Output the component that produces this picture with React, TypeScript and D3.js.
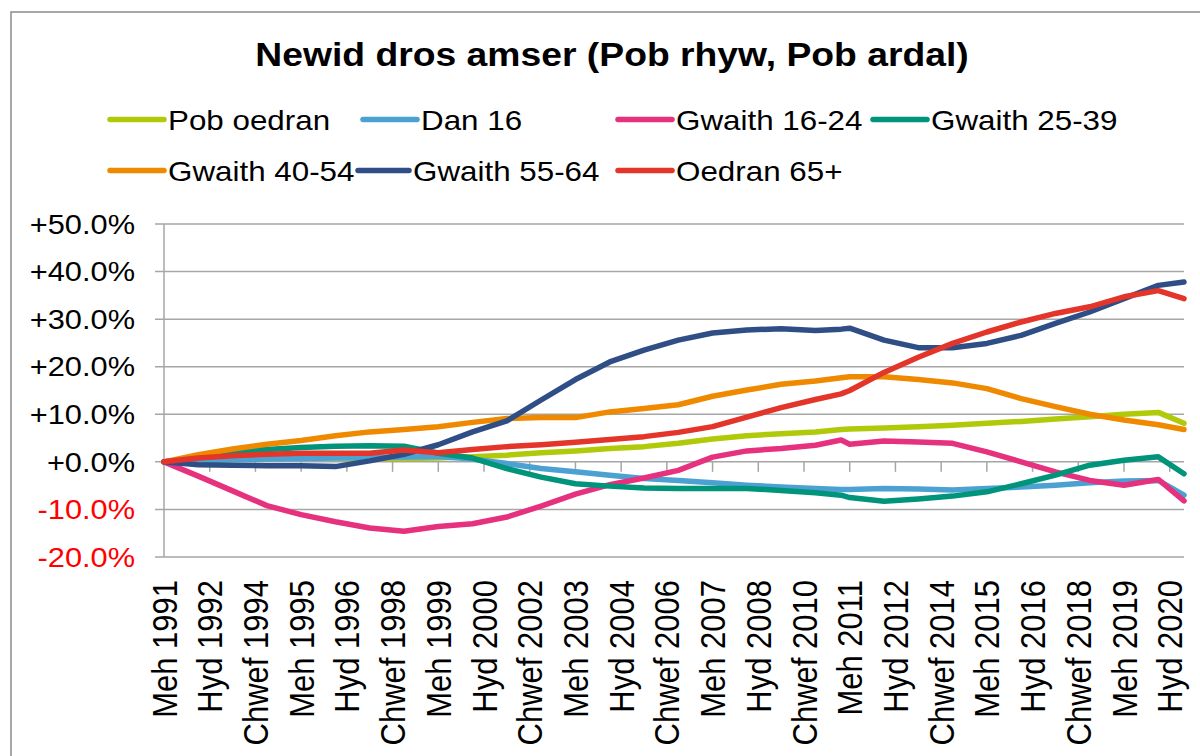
import React from "react";
import * as d3 from "d3";

// mid-year estimates, plus the two census points (Mar 2011, Mar 2021)
const periods = [
  1991, 1992, 1993, 1994, 1995, 1996, 1997, 1998, 1999, 2000,
  2001, 2002, 2003, 2004, 2005, 2006, 2007, 2008, 2009, 2010,
  2010.75, 2011, 2012, 2013, 2014, 2015, 2016, 2017, 2018, 2019, 2020, 2020.75,
];

const pobOedran = [
  0, 0.3, 0.5, 0.7, 0.8, 0.8, 0.7, 0.7, 0.8, 1.1,
  1.4, 1.9, 2.3, 2.8, 3.2, 3.9, 4.8, 5.5, 5.9, 6.3,
  6.8, 6.9, 7.1, 7.4, 7.7, 8.1, 8.5, 9.0, 9.5, 10.0, 10.4, 8.1,
];
const dan16 = [
  0, 0.3, 0.5, 0.6, 0.7, 0.8, 0.9, 1.0, 1.1, 0.6,
  -0.35, -1.4, -2.1, -2.8, -3.5, -3.9, -4.4, -4.9, -5.3, -5.6,
  -5.8, -5.8, -5.6, -5.7, -5.9, -5.6, -5.3, -4.9, -4.4, -4.0, -3.9, -7.0,
];
const gwaith1624 = [
  0, -3.0, -6.1, -9.2, -11.1, -12.6, -13.9, -14.6, -13.6, -13.0,
  -11.6, -9.3, -6.8, -4.8, -3.4, -1.8, 1.0, 2.3, 2.8, 3.5,
  4.6, 3.7, 4.4, 4.2, 3.9, 2.1, 0.0, -2.1, -3.9, -4.9, -3.7, -8.2,
];
const gwaith2539 = [
  0, 1.0, 2.0, 2.6, 3.0, 3.3, 3.4, 3.3, 1.8, 0.8,
  -1.4, -3.2, -4.6, -5.1, -5.5, -5.6, -5.6, -5.6, -6.0, -6.5,
  -7.0, -7.5, -8.3, -7.8, -7.2, -6.3, -4.6, -2.8, -0.7, 0.35, 1.05, -2.5,
];
const gwaith4054 = [
  0, 1.5, 2.7, 3.7, 4.5, 5.5, 6.3, 6.8, 7.4, 8.3,
  9.1, 9.3, 9.3, 10.5, 11.2, 12.0, 13.8, 15.1, 16.3, 17.0,
  17.7, 17.9, 17.9, 17.3, 16.6, 15.4, 13.3, 11.6, 10.0, 8.8, 7.8, 6.8,
];
const gwaith5564 = [
  0, -0.6, -0.7, -0.8, -0.8, -1.0, 0.2, 1.6, 3.6, 6.3,
  8.6, 13.0, 17.3, 21.0, 23.5, 25.6, 27.1, 27.7, 28.0, 27.6,
  27.9, 28.1, 25.6, 24.0, 24.0, 24.9, 26.6, 29.1, 31.5, 34.3, 37.1, 37.8,
];
const oedran65 = [
  0, 0.8, 1.3, 1.6, 1.8, 1.8, 1.8, 2.5, 1.9, 2.6,
  3.2, 3.6, 4.1, 4.7, 5.3, 6.2, 7.4, 9.4, 11.4, 13.1,
  14.3, 15.0, 18.8, 22.0, 24.9, 27.3, 29.4, 31.2, 32.6, 34.7, 36.0, 34.3,
];

const seriesNames = [
  "Pob oedran", "Dan 16", "Gwaith 16-24", "Gwaith 25-39",
  "Gwaith 40-54", "Gwaith 55-64", "Oedran 65+",
];
const seriesValues = [pobOedran, dan16, gwaith1624, gwaith2539, gwaith4054, gwaith5564, oedran65];
const seriesColors = ["#B0CA0A", "#4BA2D2", "#E6317F", "#00947A", "#EF8A00", "#2F4E86", "#E3352A"];

const xLabels = [
  "Meh 1991", "Hyd 1992", "Chwef 1994", "Meh 1995", "Hyd 1996", "Chwef 1998",
  "Meh 1999", "Hyd 2000", "Chwef 2002", "Meh 2003", "Hyd 2004", "Chwef 2006",
  "Meh 2007", "Hyd 2008", "Chwef 2010", "Meh 2011", "Hyd 2012", "Chwef 2014",
  "Meh 2015", "Hyd 2016", "Chwef 2018", "Meh 2019", "Hyd 2020",
];
const yTicks = [-20, -10, 0, 10, 20, 30, 40, 50];

const monthNum: Record<string, number> = { Chwef: 2, Meh: 6, Hyd: 10 };
// label -> fractional year, with June as the whole year
const labelPos = (lab: string) => {
  const [m, yr] = lab.split(" ");
  return +yr + (monthNum[m] - 6) / 12;
};

// legend boxes, Excel style two rows
const legendSpots = [
  [110, 119.5], [363, 119.5], [618, 119.5], [873, 119.5],
  [110, 170.5], [358, 170.5], [618, 170.5],
];

const FONT = "'Liberation Sans', Arial, sans-serif";
const SX = 1.12; // source picture is a little wide

export default function App() {
  const width = 1200;
  const height = 756;
  const plot = { left: 164, right: 1184, top: 224, bottom: 557 };

  const x = d3.scaleLinear().domain([1991, 2020.75]).range([plot.left, plot.right]);
  const y = d3.scaleLinear().domain([-20, 50]).range([plot.bottom, plot.top]);

  const line = d3
    .line<number>()
    .x((d, i) => x(periods[i]))
    .y((d) => y(d));

  const fmt = (v: number) => (v >= 0 ? "+" : "") + v.toFixed(1) + "%";

  return (
    <svg
      width={width}
      height={height}
      style={{ position: "absolute", left: 0, top: 0, background: "#fff" }}
      fontFamily={FONT}
    >
      <rect x={11} y={12} width={1300} height={900} fill="#fff" stroke="#8c8c8c" strokeWidth={1.5} />

      <g transform={`translate(612,66) scale(${SX + 0.01},1)`}>
        <text textAnchor="middle" fontSize={33} fontWeight="bold" fill="#000">
          Newid dros amser (Pob rhyw, Pob ardal)
        </text>
      </g>

      {seriesNames.map((name, i) => {
        const lx = legendSpots[i][0];
        const ly = legendSpots[i][1];
        const len = i === 5 ? 51 : 54;
        return (
          <g key={name}>
            <line
              x1={lx}
              x2={lx + len}
              y1={ly}
              y2={ly}
              stroke={seriesColors[i]}
              strokeWidth={5.5}
              strokeLinecap="round"
            />
            <g transform={`translate(${lx + len + 4},${ly + 10}) scale(${SX},1)`}>
              <text fontSize={28} fill="#000">{name}</text>
            </g>
          </g>
        );
      })}

      {/* grid + y axis */}
      {yTicks.map((t) => (
        <g key={t}>
          <line x1={plot.left - 9} x2={plot.right} y1={y(t)} y2={y(t)} stroke="#a6a6a6" strokeWidth={1.5} />
          <g transform={`translate(135,${y(t)}) scale(${SX + 0.02},1)`}>
            <text textAnchor="end" dy="0.36em" fontSize={27} fill={t < 0 ? "#ff0000" : "#000"}>
              {fmt(t)}
            </text>
          </g>
        </g>
      ))}
      <line x1={plot.left} x2={plot.left} y1={plot.top} y2={plot.bottom} stroke="#a6a6a6" strokeWidth={1.5} />

      {/* category ticks on the zero line, labels at the bottom */}
      {xLabels.map((lab, i) => {
        const px = x(labelPos(lab));
        return (
          <g key={lab}>
            {i > 0 && (
              <line x1={px} x2={px} y1={y(0)} y2={y(0) + 10} stroke="#a6a6a6" strokeWidth={1.5} />
            )}
            <g transform={`translate(${px},580) scale(${SX},1) rotate(-90)`}>
              <text textAnchor="end" dy="0.36em" fontSize={31} fill="#000">
                {lab}
              </text>
            </g>
          </g>
        );
      })}

      {seriesValues.map((vals, i) => (
        <path
          key={seriesNames[i]}
          d={line(vals) || ""}
          fill="none"
          stroke={seriesColors[i]}
          strokeWidth={5.5}
          strokeLinejoin="round"
          strokeLinecap="round"
        />
      ))}
    </svg>
  );
}
